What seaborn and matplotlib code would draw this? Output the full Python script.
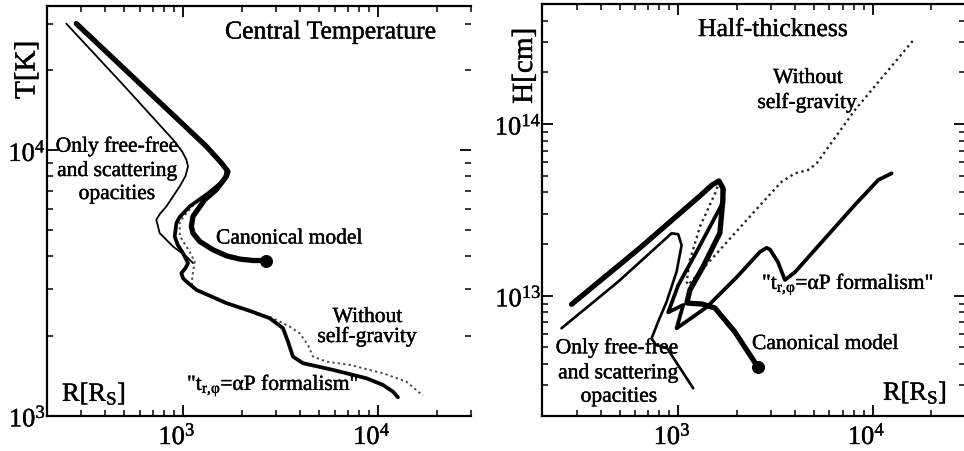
import matplotlib
matplotlib.use("Agg")
import matplotlib.pyplot as plt
import matplotlib.transforms as mtransforms
import matplotlib.patheffects as pe
from matplotlib.ticker import LogLocator, FuncFormatter, NullFormatter
import numpy as np
import pandas as pd
import seaborn as sns

# ---------------- Left panel: central temperature T[K] vs R[R_S] ----------------
tc_canon_R = [284, 675, 1318, 1574, 1701, 1670, 1483, 1292, 1125, 1104, 1125, 1218, 1425,
              1670, 1953, 2285, 2678]
tc_canon_T = [30040, 16470, 10350, 8965, 8330, 7980, 7111, 6516, 5636, 5167, 4879, 4537, 4220,
              4005, 3893, 3845, 3845]

tc_alpha_R = [284, 675, 1318, 1574, 1675, 1636, 1350, 1082, 960, 925, 907, 940, 1000, 1061,
              1030, 981, 1000, 1041, 1171, 1670, 2198, 2784, 3257, 3455, 3665, 4124, 5877,
              8721, 10610, 11940, 12660]
tc_alpha_T = [30040, 16470, 10350, 8965, 8455, 7752, 6900, 6147, 5600, 5321, 4738, 4400, 4100,
              3760, 3600, 3446, 3300, 3204, 2981, 2656, 2484, 2331, 2137, 1902, 1670, 1577,
              1488, 1384, 1306, 1232, 1173]

tc_nosg_R = [1700, 1636, 1108, 962, 962, 1082, 1148, 1121, 1108, 1175, 1675, 2198,
             2894, 3525, 3967, 4375, 4642, 5437, 7167, 10610, 13980, 17010]
tc_nosg_T = [8330, 7752, 6133, 5382, 4764, 4146, 3802, 3396, 3141, 2955, 2663, 2484,
             2331, 2167, 2046, 1849, 1670, 1599, 1554, 1445, 1344, 1190]

tc_ff_R = [252, 492, 889, 990, 1041, 1061, 1030, 962, 822, 760, 730, 759, 889, 1041, 1125]
tc_ff_T = [30040, 17700, 10975, 9900, 9224, 8700, 8000, 7316, 6147, 5750, 5476, 4879, 4342,
           3981, 3760]

# ---------------- Right panel: half-thickness H[cm] vs R[R_S] ----------------
ht_canon_R = [283, 635, 1293, 1491, 1620, 1698, 1698, 1638, 1340, 1149, 1108, 1200, 1324, 1545,
              1957, 2394, 2570]
ht_canon_H = [8.91e12, 1.896e13, 3.81e13, 4.41e13, 4.66e13, 4.24e13, 3.61e13, 2.32e13,
              1.47e13, 1.08e13, 9.07e12, 9.0e12, 8.95e12, 8.48e12, 6.15e12, 4.34e12, 3.84e12]

ht_alpha_R = [283, 635, 1293, 1491, 1620, 1718, 1672, 1219, 1000, 888, 1061, 981, 1194,
              1405, 2004, 2633, 2850, 2963, 3258, 3539, 3984, 8106, 10690, 12520]
ht_alpha_H = [8.91e12, 1.896e13, 3.81e13, 4.41e13, 4.66e13, 4.13e13, 3.38e13, 1.73e13,
              1.15e13, 8.0e12, 8.83e12, 6.46e12, 7.54e12, 8.6e12, 1.285e13, 1.80e13,
              1.90e13, 1.86e13, 1.57e13, 1.235e13, 1.37e13, 3.38e13, 4.72e13, 5.16e13]

ht_nosg_R = [1620, 1576, 1293, 1149, 1105, 1126, 2292, 2963, 3404, 3984, 4664, 5153, 8106, 16510]
ht_nosg_H = [4.66e13, 4.13e13, 2.52e13, 1.61e13, 1.206e13, 1.155e13, 2.82e13, 3.89e13,
             4.61e13, 5.16e13, 5.40e13, 5.90e13, 1.206e14, 3.16e14]

ht_ff_R = [251, 491, 925, 1000, 1041, 981, 872, 789, 730, 768, 875, 1194]
ht_ff_H = [6.46e12, 1.206e13, 2.31e13, 2.28e13, 1.97e13, 1.38e13, 9.23e12, 7.06e12,
           5.65e12, 5.16e12, 4.96e12, 2.89e12]

# ---------------- style ----------------
sns.set_theme(style="ticks")
plt.rcParams["font.family"] = ["Liberation Serif", "DejaVu Serif"]
plt.rcParams["mathtext.fontset"] = "custom"
plt.rcParams["mathtext.rm"] = "Liberation Serif"
plt.rcParams["mathtext.it"] = "Liberation Serif:italic"
plt.rcParams["mathtext.bf"] = "Liberation Serif:bold"
for k in ["text.color", "axes.labelcolor", "xtick.color", "ytick.color", "axes.edgecolor"]:
    plt.rcParams[k] = "black"

W, H = 964, 451
fig = plt.figure(figsize=(W / 100, H / 100), dpi=100)
fig.patch.set_facecolor("white")
axL = fig.add_axes([46.7 / W, 1 - 415.7 / H, (471 - 46.7) / W, (415.7 - 6) / H])
axR = fig.add_axes([542.3 / W, 1 - 415.7 / H, (965.4 - 542.3) / W, (415.7 - 4) / H])

bold = [pe.withStroke(linewidth=0.3, foreground="black")]


def curve(ax, R, V, lw, color="black", ls="-", z=2):
    df = pd.DataFrame({"R": R, "V": V})
    sns.lineplot(data=df, x="R", y="V", ax=ax, sort=False, estimator=None,
                 color=color, lw=lw, linestyle=ls, zorder=z,
                 solid_capstyle="round", solid_joinstyle="round")


fmt = FuncFormatter(lambda v, p: r"$\mathregular{10^{%d}}$" % int(round(np.log10(v))))

for ax in (axL, axR):
    ax.set_xscale("log")
    ax.set_yscale("log")

# left panel curves
curve(axL, tc_nosg_R, tc_nosg_T, 1.4, color="0.3", ls=(0, (1.2, 1.6)), z=1)
curve(axL, tc_ff_R, tc_ff_T, 1.3, z=2)
curve(axL, tc_alpha_R, tc_alpha_T, 2.7, z=3)
curve(axL, tc_canon_R, tc_canon_T, 3.8, z=4)
sns.scatterplot(x=[tc_canon_R[-1]], y=[tc_canon_T[-1]], ax=axL, s=75,
                color="black", edgecolor="black", zorder=5)

# right panel curves
curve(axR, ht_nosg_R, ht_nosg_H, 1.7, color="0.15", ls=(0, (1.0, 1.5)), z=1)
curve(axR, ht_ff_R, ht_ff_H, 1.9, z=2)
curve(axR, ht_alpha_R, ht_alpha_H, 2.7, z=3)
curve(axR, ht_canon_R, ht_canon_H, 3.8, z=4)
sns.scatterplot(x=[ht_canon_R[-1]], y=[ht_canon_H[-1]], ax=axR, s=75,
                color="black", edgecolor="black", zorder=5)

axL.set_xlim(200, 3e4)
axL.set_ylim(1e3, 3.5e4)
axR.set_xlim(200, 3e4)
axR.set_ylim(2e12, 5e14)

shift = mtransforms.ScaledTranslation(-6 / 100, 0, fig.dpi_scale_trans)
for ax in (axL, axR):
    ax.set_xlabel("")
    ax.set_ylabel("")
    for a in (ax.xaxis, ax.yaxis):
        a.set_major_locator(LogLocator(base=10, numticks=20))
        a.set_minor_locator(LogLocator(base=10, subs=np.arange(2, 10), numticks=20))
        a.set_major_formatter(fmt)
        a.set_minor_formatter(NullFormatter())
    ax.tick_params(which="both", direction="in", top=True, right=True, colors="black")
    ax.tick_params(which="major", length=8, width=1.3, labelsize=19)
    ax.tick_params(which="minor", length=4.5, width=1.1)
    ax.tick_params(axis="x", which="major", pad=5)
    ax.tick_params(axis="y", which="major", pad=0.5)
    for s in ("left", "bottom", "top"):
        ax.spines[s].set_linewidth(1.6)
        ax.spines[s].set_color("black")
    ax.spines["right"].set_visible(False)
    ax.set_facecolor("white")
    ax.grid(False)
    for lab in ax.get_xticklabels():
        lab.set_transform(lab.get_transform() + shift)
    for lab in ax.get_xticklabels() + ax.get_yticklabels():
        lab.set_path_effects(bold)


def ftext(x, y, s, size=15.5, ha="left", va="baseline", rot=0):
    t = fig.text(x / W, 1 - y / H, s, fontsize=size, ha=ha, va=va, rotation=rot, color="black")
    t.set_path_effects(bold)


# left panel texts
ftext(225, 38.5, "Central Temperature", size=18.5)
ftext(27.5, 70, "T[K]", size=21, ha="center", va="center", rot=90)
ftext(62, 401, r"R[R$_\mathregular{S}$]", size=19)
ftext(117, 151.7, "Only free-free", ha="center")
ftext(117, 176, "and scattering", ha="center")
ftext(117, 199, "opacities", ha="center")
ftext(216, 243.5, "Canonical model")
ftext(367.5, 322, "Without", ha="center")
ftext(367, 342, "self-gravity", ha="center")
ftext(187, 390, r'"t$_\mathregular{r,\!φ}$=αP formalism"')

# right panel texts
ftext(698, 36, "Half-thickness", size=18.5)
ftext(525, 66, "H[cm]", size=21, ha="center", va="center", rot=90)
ftext(883, 400, r"R[R$_\mathregular{S}$]", size=19)
ftext(808, 83, "Without", ha="center")
ftext(807, 108, "self-gravity", ha="center")
ftext(762, 289, r'"t$_\mathregular{r,\!φ}$=αP formalism"')
ftext(752, 349, "Canonical model")
ftext(617, 353.3, "Only free-free", ha="center")
ftext(618, 378.3, "and scattering", ha="center")
ftext(619, 401.7, "opacities", ha="center")

fig.savefig("out.png", dpi=100, facecolor="white")
